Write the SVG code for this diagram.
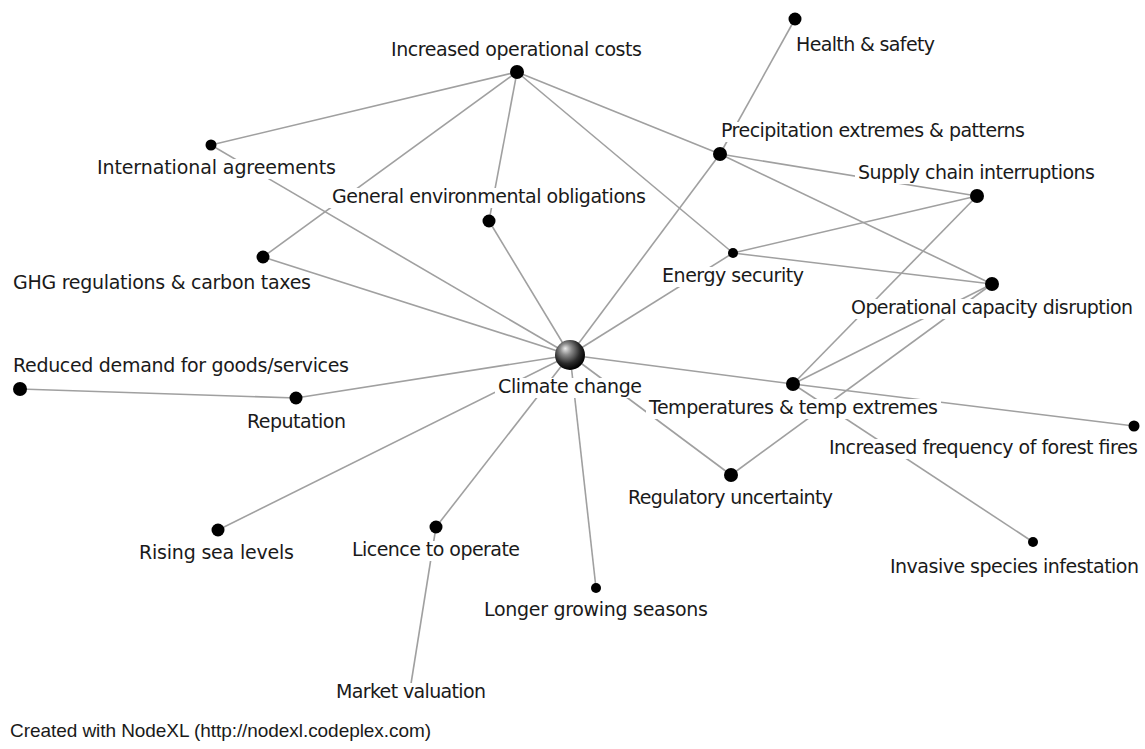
<svg xmlns="http://www.w3.org/2000/svg" width="1145" height="749" viewBox="0 0 1145 749">
  <style>
    .edge { stroke: #a0a0a0; stroke-width: 1.6; fill: none; }
    .dot { fill: #000; }
    .bg { fill: #fff; }
    .lbl { font-family: "DejaVu Sans", "Noto Sans", sans-serif; font-size: 19px; fill: #1a1a1a; }
    .credit { font-family: "Liberation Sans", Arial, sans-serif; font-size: 19px; fill: #1a1a1a; }
  </style>
  <defs>
    <radialGradient id="sphere" cx="0.42" cy="0.38" r="0.62" fx="0.34" fy="0.28">
      <stop offset="0" stop-color="#ececec"/>
      <stop offset="0.3" stop-color="#8c8c8c"/>
      <stop offset="0.7" stop-color="#2b2b2b"/>
      <stop offset="1" stop-color="#000"/>
    </radialGradient>
  </defs>
  <rect width="1145" height="749" fill="#fff"/>

  <g id="edges">
    <line class="edge" x1="517" y1="72" x2="211" y2="145"/>
    <line class="edge" x1="517" y1="72" x2="263" y2="257"/>
    <line class="edge" x1="517" y1="72" x2="489" y2="221"/>
    <line class="edge" x1="517" y1="72" x2="733" y2="253"/>
    <line class="edge" x1="517" y1="72" x2="720" y2="154"/>
    <line class="edge" x1="795" y1="19" x2="720" y2="154"/>
    <line class="edge" x1="720" y1="154" x2="977" y2="196"/>
    <line class="edge" x1="720" y1="154" x2="992" y2="284"/>
    <line class="edge" x1="720" y1="154" x2="570" y2="355"/>
    <line class="edge" x1="733" y1="253" x2="977" y2="196"/>
    <line class="edge" x1="733" y1="253" x2="992" y2="284"/>
    <line class="edge" x1="733" y1="253" x2="570" y2="355"/>
    <line class="edge" x1="211" y1="145" x2="570" y2="355"/>
    <line class="edge" x1="263" y1="257" x2="570" y2="355"/>
    <line class="edge" x1="489" y1="221" x2="570" y2="355"/>
    <line class="edge" x1="296" y1="398" x2="570" y2="355"/>
    <line class="edge" x1="20" y1="389" x2="296" y2="398"/>
    <line class="edge" x1="218" y1="530" x2="570" y2="355"/>
    <line class="edge" x1="436" y1="527" x2="570" y2="355"/>
    <line class="edge" x1="436" y1="527" x2="410" y2="690"/>
    <line class="edge" x1="596" y1="588" x2="570" y2="355"/>
    <line class="edge" x1="793" y1="384" x2="570" y2="355"/>
    <line class="edge" x1="731" y1="475" x2="570" y2="355"/>
    <line class="edge" x1="793" y1="384" x2="977" y2="196"/>
    <line class="edge" x1="793" y1="384" x2="992" y2="284"/>
    <line class="edge" x1="731" y1="475" x2="992" y2="284"/>
    <line class="edge" x1="793" y1="384" x2="1134" y2="426"/>
    <line class="edge" x1="793" y1="384" x2="1033" y2="542"/>
  </g>

  <g id="n-increased-operational-costs">
    <circle class="dot" cx="517" cy="72" r="7"/>
    <rect class="bg" x="388" y="41" width="257" height="20"/>
    <text class="lbl" x="391" y="56" textLength="251">Increased operational costs</text>
  </g>
  <g id="n-health-safety">
    <circle class="dot" cx="795" cy="19" r="6.5"/>
    <rect class="bg" x="793" y="36" width="145" height="20"/>
    <text class="lbl" x="796" y="51" textLength="139">Health &amp; safety</text>
  </g>
  <g id="n-precipitation">
    <circle class="dot" cx="720" cy="154" r="7"/>
    <rect class="bg" x="718" y="122" width="310" height="20"/>
    <text class="lbl" x="721" y="137" textLength="304">Precipitation extremes &amp; patterns</text>
  </g>
  <g id="n-supply-chain">
    <circle class="dot" cx="977" cy="196" r="7"/>
    <rect class="bg" x="855" y="164" width="243" height="20"/>
    <text class="lbl" x="858" y="179" textLength="237">Supply chain interruptions</text>
  </g>
  <g id="n-international-agreements">
    <circle class="dot" cx="211" cy="145" r="5.5"/>
    <rect class="bg" x="94" y="159" width="245" height="20"/>
    <text class="lbl" x="97" y="174" textLength="239">International agreements</text>
  </g>
  <g id="n-general-environmental">
    <circle class="dot" cx="489" cy="221" r="6.5"/>
    <rect class="bg" x="329" y="188" width="320" height="20"/>
    <text class="lbl" x="332" y="203" textLength="314">General environmental obligations</text>
  </g>
  <g id="n-energy-security">
    <circle class="dot" cx="733" cy="253" r="5"/>
    <rect class="bg" x="659" y="267" width="148" height="20"/>
    <text class="lbl" x="662" y="282" textLength="142">Energy security</text>
  </g>
  <g id="n-ghg-regulations">
    <circle class="dot" cx="263" cy="257" r="6.5"/>
    <rect class="bg" x="10" y="274" width="304" height="20"/>
    <text class="lbl" x="13" y="289" textLength="298">GHG regulations &amp; carbon taxes</text>
  </g>
  <g id="n-operational-capacity">
    <circle class="dot" cx="992" cy="284" r="7"/>
    <rect class="bg" x="848" y="299" width="288" height="20"/>
    <text class="lbl" x="851" y="314" textLength="282">Operational capacity disruption</text>
  </g>
  <g id="n-reduced-demand">
    <circle class="dot" cx="20" cy="389" r="7"/>
    <rect class="bg" x="10" y="357" width="342" height="20"/>
    <text class="lbl" x="13" y="372" textLength="336">Reduced demand for goods/services</text>
  </g>
  <g id="n-reputation">
    <circle class="dot" cx="296" cy="398" r="6.5"/>
    <rect class="bg" x="244" y="413" width="105" height="20"/>
    <text class="lbl" x="247" y="428" textLength="99">Reputation</text>
  </g>
  <g id="n-climate-change">
    <circle cx="570" cy="355" r="15" fill="url(#sphere)"/>
    <rect class="bg" x="495" y="378" width="150" height="20"/>
    <text class="lbl" x="498" y="393" textLength="144">Climate change</text>
  </g>
  <g id="n-temperatures">
    <circle class="dot" cx="793" cy="384" r="7"/>
    <rect class="bg" x="646" y="399" width="295" height="20"/>
    <text class="lbl" x="649" y="414" textLength="289">Temperatures &amp; temp extremes</text>
  </g>
  <g id="n-forest-fires">
    <circle class="dot" cx="1134" cy="426" r="5.5"/>
    <rect class="bg" x="826" y="439" width="315" height="20"/>
    <text class="lbl" x="829" y="454" textLength="309">Increased frequency of forest fires</text>
  </g>
  <g id="n-regulatory-uncertainty">
    <circle class="dot" cx="731" cy="475" r="7"/>
    <rect class="bg" x="625" y="489" width="211" height="20"/>
    <text class="lbl" x="628" y="504" textLength="205">Regulatory uncertainty</text>
  </g>
  <g id="n-invasive-species">
    <circle class="dot" cx="1033" cy="542" r="5"/>
    <rect class="bg" x="887" y="558" width="255" height="20"/>
    <text class="lbl" x="890" y="573" textLength="249">Invasive species infestation</text>
  </g>
  <g id="n-rising-sea-levels">
    <circle class="dot" cx="218" cy="530" r="6.5"/>
    <rect class="bg" x="136" y="544" width="161" height="20"/>
    <text class="lbl" x="139" y="559" textLength="155">Rising sea levels</text>
  </g>
  <g id="n-licence-to-operate">
    <circle class="dot" cx="436" cy="527" r="6.5"/>
    <rect class="bg" x="349" y="541" width="174" height="20"/>
    <text class="lbl" x="352" y="556" textLength="168">Licence to operate</text>
  </g>
  <g id="n-longer-growing-seasons">
    <circle class="dot" cx="596" cy="588" r="5"/>
    <rect class="bg" x="481" y="601" width="230" height="20"/>
    <text class="lbl" x="484" y="616" textLength="224">Longer growing seasons</text>
  </g>
  <g id="n-market-valuation">
    <rect class="bg" x="333" y="683" width="156" height="20"/>
    <text class="lbl" x="336" y="698" textLength="150">Market valuation</text>
  </g>

  <text class="credit" x="10" y="737" textLength="421">Created with NodeXL (http://nodexl.codeplex.com)</text>
</svg>
